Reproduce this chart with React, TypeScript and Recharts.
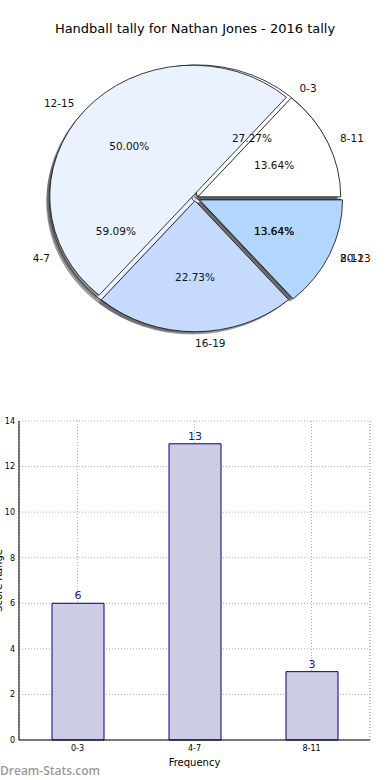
import {
  Bar,
  BarChart,
  CartesianGrid,
  Cell,
  LabelList,
  Pie,
  PieChart,
  XAxis,
  YAxis,
} from "recharts";

// pie drawn first (underneath)
const firstNames = ["0-3", "4-7", "8-11"];
const firstCounts = [6, 13, 3];
const firstColors = ["#ffffff", "#ebf2ff", "#c6d9ff"];
const firstExplode = [3, 3, 3];

// pie drawn on top
const secondNames = ["8-11", "12-15", "16-19", "20-23"];
const secondCounts = [3, 11, 5, 3];
const secondColors = ["#ffffff", "#ebf2ff", "#c6d9ff", "#b3d6ff"];
const secondExplode = [3, 3, 3, 5];

const barCategories = ["0-3", "4-7", "8-11"];
const barCounts = [6, 13, 3];
const yTicks = [0, 2, 4, 6, 8, 10, 12, 14];

const FONT = "'DejaVu Sans', sans-serif";
const CX = 195;
const CY = 198;
const RX = 143;
const RY = 131;
// label radii (matplotlib puts names at 1.1r and percents at 0.6r)
const LX = 145;
const LY = 132;
const RAD = Math.PI / 180;

function toRows(names: string[], counts: number[]) {
  return names.map((name, i) => ({ name, value: counts[i] }));
}

function midAngles(counts: number[]) {
  const total = counts.reduce((a, b) => a + b, 0);
  let acc = 0;
  return counts.map((c) => {
    const mid = ((acc + c / 2) / total) * 360;
    acc += c;
    return mid;
  });
}

function pieLabel(props: any) {
  const { cx, cy, midAngle, name, percent } = props;
  const c = Math.cos(midAngle * RAD);
  const s = Math.sin(midAngle * RAD);
  return (
    <g>
      <text
        x={cx + 1.1 * LX * c}
        y={cy - 1.1 * LY * s}
        textAnchor={c > -1e-6 ? "start" : "end"}
        dominantBaseline="central"
        fontSize={10.5}
        fontFamily={FONT}
        fill="#111"
      >
        {name}
      </text>
      <text
        x={cx + 0.6 * LX * c}
        y={cy - 0.6 * LY * s}
        textAnchor="middle"
        dominantBaseline="central"
        fontSize={10.5}
        fontFamily={FONT}
        fill="#111"
      >
        {`${(percent * 100).toFixed(2)}%`}
      </text>
    </g>
  );
}

// one Pie per wedge so each can be pushed out along its mid angle
function slicePies(
  key: string,
  names: string[],
  counts: number[],
  colors: string[],
  explode: number[],
) {
  const rows = toRows(names, counts);
  const mids = midAngles(counts);
  const offsets = rows.map((_, idx) => ({
    dx: explode[idx] * Math.cos(mids[idx] * RAD),
    dy: -explode[idx] * Math.sin(mids[idx] * RAD),
  }));

  const one = (idx: number, shadow: boolean) => (
    <Pie
      key={`${key}-${shadow ? "s" : "w"}-${idx}`}
      data={rows}
      dataKey="value"
      cx={CX + offsets[idx].dx + (shadow ? -3 : 0)}
      cy={CY + offsets[idx].dy + (shadow ? 3 : 0)}
      outerRadius={RX}
      startAngle={0}
      endAngle={360}
      label={false}
      labelLine={false}
      isAnimationActive={false}
    >
      {rows.map((_, i) => (
        <Cell
          key={i}
          fill={i !== idx ? "none" : shadow ? "#4a4a4a" : colors[i]}
          fillOpacity={shadow ? 0.55 : 1}
          stroke={i === idx && !shadow ? "#000" : "none"}
          strokeWidth={0.8}
        />
      ))}
    </Pie>
  );

  return [...rows.map((_, i) => one(i, true)), ...rows.map((_, i) => one(i, false))];
}

function labelPie(key: string, names: string[], counts: number[]) {
  const rows = toRows(names, counts);
  return (
    <Pie
      key={key}
      data={rows}
      dataKey="value"
      nameKey="name"
      cx={CX}
      cy={CY}
      outerRadius={RX}
      startAngle={0}
      endAngle={360}
      fill="none"
      stroke="none"
      label={pieLabel}
      labelLine={false}
      isAnimationActive={false}
    >
      {rows.map((_, i) => (
        <Cell key={i} fill="none" stroke="none" />
      ))}
    </Pie>
  );
}

export default function App() {
  const barData = barCategories.map((range, i) => ({
    range,
    count: barCounts[i],
  }));

  return (
    <div
      style={{
        position: "absolute",
        left: 0,
        top: 0,
        width: 390,
        height: 780,
        background: "#fff",
        fontFamily: FONT,
      }}
    >
      <style>{`.pie-box .recharts-sector { transform-origin: ${CX}px ${CY}px; transform: scaleY(${RY / RX}); }`}</style>
      <div
        style={{
          position: "absolute",
          top: 21,
          left: 0,
          width: 390,
          textAlign: "center",
          fontSize: 13,
          color: "#000",
        }}
      >
        Handball tally for Nathan Jones - 2016 tally
      </div>

      <div className="pie-box" style={{ position: "absolute", top: 0, left: 0 }}>
        <PieChart width={390} height={400} margin={{ top: 0, right: 0, bottom: 0, left: 0 }}>
          {slicePies("a", firstNames, firstCounts, firstColors, firstExplode)}
          {slicePies("b", secondNames, secondCounts, secondColors, secondExplode)}
          {labelPie("la", firstNames, firstCounts)}
          {labelPie("lb", secondNames, secondCounts)}
        </PieChart>
      </div>

      <div style={{ position: "absolute", top: 400, left: 0 }}>
        <BarChart
          width={390}
          height={380}
          data={barData}
          margin={{ top: 21, right: 20, left: 0, bottom: 0 }}
        >
          <CartesianGrid stroke="#aaa" strokeDasharray="1 2" />
          <XAxis
            dataKey="range"
            height={40}
            axisLine={{ stroke: "#000" }}
            tickLine={false}
            tickSize={3}
            tickMargin={2}
            tick={{ fontSize: 8, fill: "#000", fontFamily: FONT }}
            label={{
              value: "Frequency",
              position: "insideBottom",
              offset: 14,
              fontSize: 10,
              fill: "#000",
              fontFamily: FONT,
            }}
          />
          <XAxis
            xAxisId="top"
            orientation="top"
            dataKey="range"
            height={0}
            tick={false}
            tickLine={false}
            axisLine={{ stroke: "#000" }}
          />
          <YAxis
            width={19}
            domain={[0, 14]}
            ticks={yTicks}
            axisLine={{ stroke: "#000" }}
            tickLine={false}
            tickSize={2}
            tick={{ fontSize: 8, fill: "#000", fontFamily: FONT }}
            label={{
              value: "Score Range",
              angle: -90,
              position: "insideLeft",
              offset: -2,
              fontSize: 10,
              fill: "#000",
              fontFamily: FONT,
              style: { textAnchor: "middle" },
            }}
          />
          <YAxis
            yAxisId="right"
            orientation="right"
            width={0}
            domain={[0, 14]}
            tick={false}
            tickLine={false}
            axisLine={{ stroke: "#000" }}
          />
          <Bar
            dataKey="count"
            barSize={52}
            fill="#ccccE5"
            stroke="#00007f"
            strokeWidth={1}
            isAnimationActive={false}
          >
            <LabelList
              dataKey="count"
              position="top"
              offset={4}
              fill="#1a1a8f"
              fontSize={11}
              fontFamily={FONT}
            />
          </Bar>
          <CartesianGrid horizontal={false} stroke="#aaa" strokeDasharray="1 2" />
        </BarChart>
      </div>

      <div
        style={{
          position: "absolute",
          left: 0,
          top: 762,
          fontSize: 12,
          fontWeight: 600,
          color: "#9a9a9a",
          fontFamily: "'Open Sans', sans-serif",
        }}
      >
        Dream-Stats.com
      </div>
    </div>
  );
}
